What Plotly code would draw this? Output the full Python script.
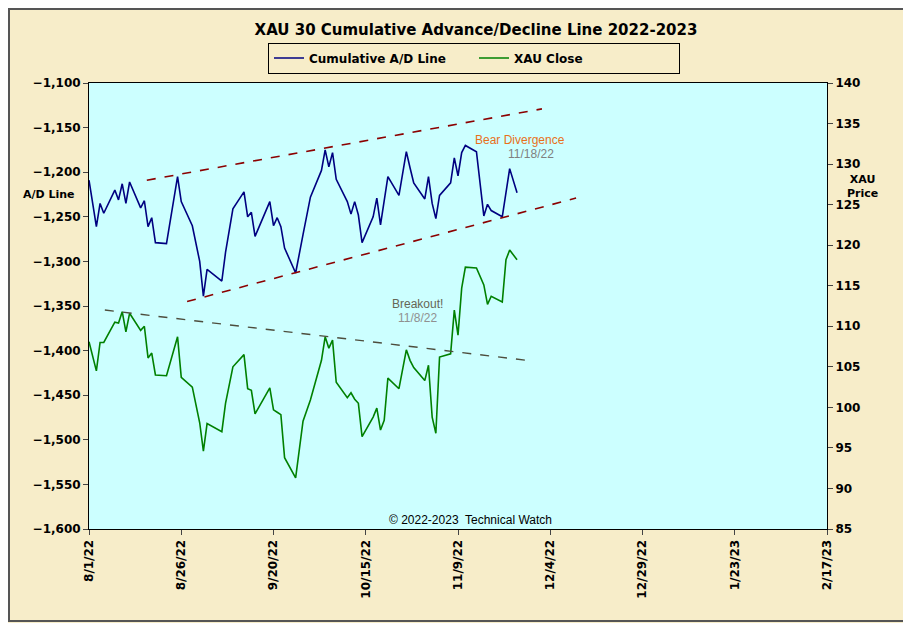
import plotly.graph_objects as go

# trading days and series values
dates = ["2022-08-01", "2022-08-03", "2022-08-04", "2022-08-05", "2022-08-08", "2022-08-09",
         "2022-08-10", "2022-08-11", "2022-08-12", "2022-08-15", "2022-08-16", "2022-08-17",
         "2022-08-18", "2022-08-19", "2022-08-22", "2022-08-25", "2022-08-26", "2022-08-29",
         "2022-08-31", "2022-09-01", "2022-09-02", "2022-09-06", "2022-09-07", "2022-09-09",
         "2022-09-12", "2022-09-13", "2022-09-14", "2022-09-15", "2022-09-19", "2022-09-20",
         "2022-09-21", "2022-09-22", "2022-09-23", "2022-09-26", "2022-09-28", "2022-09-30",
         "2022-10-03", "2022-10-04", "2022-10-05", "2022-10-06", "2022-10-07", "2022-10-10",
         "2022-10-11", "2022-10-12", "2022-10-13", "2022-10-14", "2022-10-17", "2022-10-18",
         "2022-10-19", "2022-10-20", "2022-10-21", "2022-10-24", "2022-10-26", "2022-10-27",
         "2022-10-28", "2022-10-31", "2022-11-01", "2022-11-02", "2022-11-03", "2022-11-04",
         "2022-11-07", "2022-11-08", "2022-11-09", "2022-11-10", "2022-11-11", "2022-11-14",
         "2022-11-16", "2022-11-17", "2022-11-18", "2022-11-21", "2022-11-22", "2022-11-23",
         "2022-11-25"]
ad_line = [-1209, -1261, -1235, -1246, -1220, -1231, -1213, -1235, -1211, -1240, -1232, -1261,
           -1251, -1279, -1280, -1205, -1233, -1260, -1300, -1339, -1309, -1322, -1290, -1241,
           -1222, -1250, -1245, -1272, -1233, -1260, -1251, -1261, -1285, -1313, -1270, -1228,
           -1198, -1175, -1194, -1178, -1208, -1233, -1247, -1233, -1248, -1279, -1250, -1229,
           -1259, -1230, -1205, -1226, -1177, -1195, -1212, -1230, -1205, -1235, -1252, -1226,
           -1212, -1184, -1204, -1178, -1170, -1177, -1249, -1236, -1243, -1250, -1220, -1196,
           -1223]
xau_close = [108.1, 104.5, 108.0, 108.0, 110.5, 110.4, 111.8, 109.3, 111.6, 109.5, 110.0, 106.1,
             106.7, 104.0, 103.9, 108.7, 103.7, 102.5, 98.1, 94.6, 98.0, 97.0, 100.5, 105.0,
             106.5, 102.3, 102.1, 99.2, 102.4, 99.7, 99.4, 99.1, 93.8, 91.3, 98.3, 100.9,
             105.8, 108.7, 107.3, 108.3, 103.1, 101.2, 101.8, 101.0, 100.5, 96.4, 98.8, 99.9,
             97.2, 98.4, 103.6, 102.3, 107.1, 105.8, 104.9, 103.3, 105.2, 98.8, 96.8, 106.2,
             106.6, 112.0, 108.9, 114.7, 117.3, 117.2, 115.1, 112.7, 113.7, 113.0, 118.2, 119.4,
             118.2]

# trend lines (start, end)
upper_dates, upper_vals = ["2022-08-16 16:00", "2022-12-01 18:00"], [-1209, -1129]
lower_dates, lower_vals = ["2022-08-27 14:00", "2022-12-11"], [-1345, -1229]
xau_tl_dates, xau_tl_vals = ["2022-08-05 07:00", "2022-11-27 16:00"], [112.0, 105.8]

tick_dates = ["2022-08-01", "2022-08-26", "2022-09-20", "2022-10-15", "2022-11-09",
              "2022-12-04", "2022-12-29", "2023-01-23", "2023-02-17"]
tick_text = ["8/1/22", "8/26/22", "9/20/22", "10/15/22", "11/9/22",
             "12/4/22", "12/29/22", "1/23/23", "2/17/23"]

font = "DejaVu Sans"
# the page body adds 8px, so the figure is that much smaller
L, R, T, B, PW, PH = 81, 84, 75, 94, 738, 446

fig = go.Figure()
fig.add_trace(go.Scatter(x=dates, y=ad_line, name="<b>Cumulative A/D Line</b>", mode="lines",
                         line=dict(color="#000080", width=1.6)))
fig.add_trace(go.Scatter(x=dates, y=xau_close, name="<b>XAU Close</b>", mode="lines", yaxis="y2",
                         line=dict(color="#008000", width=1.6)))
fig.add_trace(go.Scatter(x=upper_dates, y=upper_vals, mode="lines", showlegend=False,
                         line=dict(color="#8B0000", width=1.6, dash="dash")))
fig.add_trace(go.Scatter(x=lower_dates, y=lower_vals, mode="lines", showlegend=False,
                         line=dict(color="#8B0000", width=1.6, dash="dash")))
fig.add_trace(go.Scatter(x=xau_tl_dates, y=xau_tl_vals, mode="lines", showlegend=False, yaxis="y2",
                         line=dict(color="#4d4d3d", width=1.4, dash="dash")))

# (x, y) are page pixels of the text centre
ann = [
    dict(x=520, y=139, text="Bear Divergence", color="#E8701A"),
    dict(x=531, y=153, text="11/18/22", color="#808080"),
    dict(x=417, y=312, text="Breakout!", color="#666655"),
    dict(x=417, y=326, text="11/8/22", color="#909090"),
    dict(x=470, y=537, text="© 2022-2023  Technical Watch", color="#000000"),
]
annotations = [dict(xref="paper", yref="paper", x=(a["x"] - 89) / PW, y=(537 - a["y"]) / PH,
                    text=a["text"], showarrow=False, font=dict(family="Arial", size=12, color=a["color"]))
               for a in ann]
annotations += [
    dict(xref="paper", yref="paper", x=(21 - 89) / PW, y=(537 - 194) / PH, text="<b>A/D Line</b>",
         showarrow=False, font=dict(family=font, size=11, color="black")),
    dict(xref="paper", yref="paper", x=(880 - 89) / PW, y=(537 - 179) / PH, text="<b>XAU<br>Price</b>",
         showarrow=False, font=dict(family=font, size=11, color="black")),
]

fig.update_layout(
    width=L + PW + R, height=T + PH + B,
    paper_bgcolor="#F7EDC9", plot_bgcolor="#CCFFFF",
    margin=dict(l=L, r=R, t=T, b=B),
    title=dict(text="<b>XAU 30 Cumulative Advance/Decline Line 2022-2023</b>",
               x=(476 - 8) / (L + PW + R), y=1 - (30 - 8) / (T + PH + B),
               xanchor="center", yanchor="middle", font=dict(family=font, size=15, color="black")),
    legend=dict(orientation="h", x=(474 - 89) / PW, y=(529 - 58) / PH, xanchor="center", yanchor="middle",
                bgcolor="#F7EDC9", bordercolor="black", borderwidth=1, entrywidth=160,
                font=dict(family=font, size=12, color="black")),
    xaxis=dict(type="date", range=["2022-08-01", "2023-02-17"], tickvals=tick_dates,
               ticktext=["<b>%s</b>" % t for t in tick_text], tickangle=-90, showgrid=False,
               ticks="outside", ticklen=5, linecolor="black", showline=True, mirror=True,
               tickfont=dict(family=font, size=12, color="black")),
    yaxis=dict(range=[-1600, -1100], dtick=50, tickformat=",", showgrid=False, ticks="outside",
               ticklen=5, linecolor="black", showline=True, zeroline=False,
               tickfont=dict(family=font, size=12, color="black"),
               tickprefix="<b>", ticksuffix="</b>"),
    yaxis2=dict(range=[85, 140], dtick=5, overlaying="y", side="right", showgrid=False,
                ticks="outside", ticklen=5, linecolor="black", showline=True,
                tickprefix="<b>", ticksuffix="</b>",
                tickfont=dict(family=font, size=12, color="black")),
    annotations=annotations,
    shapes=[dict(type="rect", xref="paper", yref="paper", x0=-(L - 1) / PW, x1=(PW + R - 2) / PW,
                 y0=-(B - 2) / PH, y1=(PH + T - 1) / PH, line=dict(color="#555555", width=2))],
)

fig.write_html("out.html")
